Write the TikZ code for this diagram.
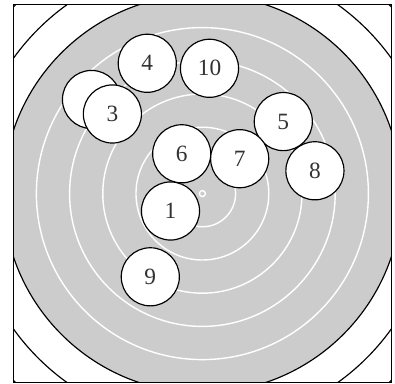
\documentclass[tikz,border=0pt]{standalone}
\usepackage{fontspec}
\setmainfont{Liberation Serif}
\usepackage{xcolor}
\definecolor{ringfill}{HTML}{CCCCCC}
\definecolor{numtxt}{HTML}{333333}
\usetikzlibrary{positioning}

\begin{document}
\begin{tikzpicture}[
  hole/.style={circle, draw=black, line width=1pt, fill=white,
    minimum size=1.75cm, inner sep=0pt, text=numtxt,
    font=\fontsize{20}{24}\selectfont},
  ringline/.style={draw=white, line width=1.2pt},
  blackline/.style={draw=black, line width=1pt},
]
\useasboundingbox (-6.096, -5.72) rectangle (5.801, 5.831);

\begin{scope}
\clip (-5.7, -5.7) rectangle (5.7, 5.7);
\draw[blackline] (0, 0) circle (8);
\draw[blackline] (0, 0) circle (7);
\draw[blackline, fill=ringfill] (0, 0) circle (6);
\foreach \r in {1, 2, 3, 4, 5} {
  \draw[ringline] (0, 0) circle (\r);
}
\end{scope}
\draw[ringline] (0, 0) circle (0.09);
\draw[blackline] (-5.7, -5.7) rectangle (5.7, 5.7);

% shots
\node[hole] (h2) at (-3.340, 2.834) {};
\node[hole] (h3) at (-2.711, 2.398) {3};
\node[hole] (h4) at (-1.660, 3.925) {4};
\node[hole] (h10) at (0.214, 3.774) {10};
\node[hole] (h8) at (3.389, 0.687) {8};
\node[hole] (h5) at (2.437, 2.169) {5};
\node[hole] (h6) at (-0.623, 1.199) {6};
\node[hole] (h7) at (1.123, 1.051) {7};
\node[hole] (h1) at (-0.961, -0.524) {1};
\node[hole] (h9) at (-1.569, -2.506) {9};

\end{tikzpicture}
\end{document}
